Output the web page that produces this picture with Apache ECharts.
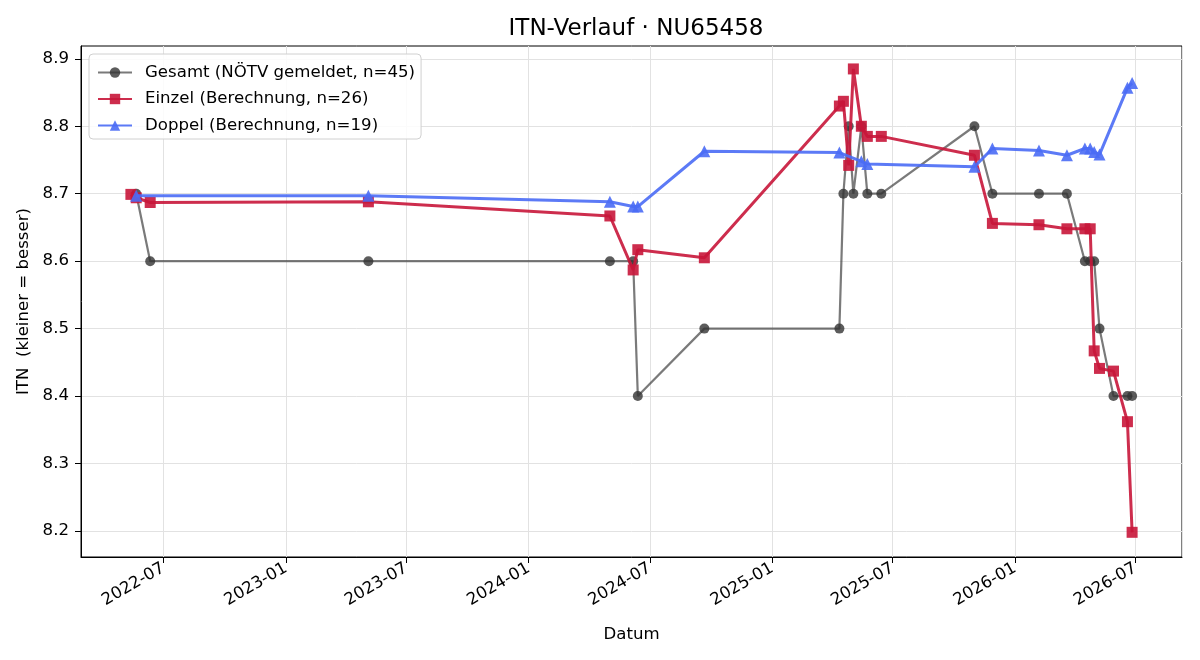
<!DOCTYPE html>
<html>
<head>
<meta charset="utf-8">
<script src="https://cdn.jsdelivr.net/npm/echarts@6/dist/echarts.min.js"></script>
<style>
  html, body { margin: 0; padding: 0; background: #fff; }
  #chart { width: 1200px; height: 660px; }
</style>
</head>
<body>
<div id="chart"></div>
<script>
// Gesamt (NÖTV gemeldet)
var gesamtDates = ['2022-05-21', '2022-06-11', '2023-05-05', '2024-05-02', '2024-06-06', '2024-06-13',
    '2024-09-21', '2025-04-12', '2025-04-18', '2025-04-26', '2025-05-03', '2025-05-15', '2025-05-24',
    '2025-06-14', '2025-11-01', '2025-11-28', '2026-02-06', '2026-03-20', '2026-04-16', '2026-04-24',
    '2026-04-30', '2026-05-08', '2026-05-29', '2026-06-19', '2026-06-26'];
var gesamtValues = [8.7, 8.6, 8.6, 8.6, 8.6, 8.4,
    8.5, 8.5, 8.7, 8.8, 8.7, 8.8, 8.7,
    8.7, 8.8, 8.7, 8.7, 8.7, 8.6, 8.6,
    8.6, 8.5, 8.4, 8.4, 8.4];

// Einzel (Berechnung)
var einzelDates = ['2022-05-13', '2022-05-21', '2022-06-11', '2023-05-05', '2024-05-02', '2024-06-06',
    '2024-06-13', '2024-09-21', '2025-04-12', '2025-04-18', '2025-04-26', '2025-05-03', '2025-05-15',
    '2025-05-24', '2025-06-14', '2025-11-01', '2025-11-28', '2026-02-06', '2026-03-20', '2026-04-16',
    '2026-04-24', '2026-04-30', '2026-05-08', '2026-05-29', '2026-06-19', '2026-06-26'];
var einzelValues = [8.699, 8.694, 8.687, 8.688, 8.667, 8.587,
    8.617, 8.605, 8.830, 8.837, 8.742, 8.885, 8.800,
    8.785, 8.785, 8.757, 8.656, 8.654, 8.648, 8.648,
    8.648, 8.467, 8.441, 8.437, 8.362, 8.198];

// Doppel (Berechnung)
var doppelDates = ['2022-05-21', '2023-05-05', '2024-05-02', '2024-06-06', '2024-06-13', '2024-09-21',
    '2025-04-12', '2025-05-15', '2025-05-24', '2025-11-01', '2025-11-28', '2026-02-06', '2026-03-20',
    '2026-04-16', '2026-04-24', '2026-04-30', '2026-05-08', '2026-06-19', '2026-06-26'];
var doppelValues = [8.697, 8.697, 8.688, 8.681, 8.681, 8.763,
    8.761, 8.748, 8.744, 8.740, 8.767, 8.764, 8.757,
    8.767, 8.767, 8.762, 8.758, 8.857, 8.864];

var yTicks = [8.2, 8.3, 8.4, 8.5, 8.6, 8.7, 8.8, 8.9];
var DAY = 24 * 3600 * 1000;

function zip(dates, values) {
    return dates.map(function (d, i) { return [d, values[i]]; });
}

var font = 'DejaVu Sans';
var fs = 16.6;
var chart = echarts.init(document.getElementById('chart'), null, { renderer: 'canvas' });

var option = {
    animation: false,
    backgroundColor: '#fff',
    textStyle: { fontFamily: font },
    title: {
        text: 'ITN-Verlauf · NU65458',
        left: 631,
        top: 13,
        textAlign: 'center',
        textStyle: { fontFamily: font, fontSize: 23, fontWeight: 'normal', color: '#000' }
    },
    grid: {
        left: 81, right: 18, top: 46, bottom: 103,
        show: true, borderColor: '#000', borderWidth: 1, backgroundColor: 'transparent'
    },
    legend: {
        orient: 'vertical',
        left: 89,
        top: 54,
        padding: [10, 6, 5, 8],
        itemGap: 9.5,
        itemWidth: 34,
        itemHeight: 13,
        backgroundColor: 'rgba(255,255,255,0.85)',
        borderColor: '#d0d0d0',
        borderWidth: 1,
        borderRadius: 4,
        textStyle: { fontFamily: font, fontSize: fs, color: '#000', padding: [0, 0, 0, 8] },
        data: ['Gesamt (NÖTV gemeldet, n=45)', 'Einzel (Berechnung, n=26)', 'Doppel (Berechnung, n=19)']
    },
    xAxis: {
        type: 'time',
        min: '2022-02-27',
        max: '2026-09-09',
        minInterval: 180 * DAY,
        maxInterval: 184 * DAY,
        name: 'Datum',
        nameLocation: 'middle',
        nameGap: 69,
        nameTextStyle: { fontFamily: font, fontSize: fs, color: '#000' },
        axisLine: { show: true, lineStyle: { color: '#000', width: 1 } },
        axisTick: { show: true, length: 6, lineStyle: { color: '#000' } },
        axisLabel: {
            rotate: 30,
            margin: 10,
            showMinLabel: false,
            showMaxLabel: false,
            hideOverlap: false,
            fontFamily: font,
            fontSize: fs,
            color: '#000',
            formatter: function (v) { return echarts.time.format(v, '{yyyy}-{MM}', false); }
        },
        splitLine: { show: true, lineStyle: { color: '#e2e2e2', width: 1 } }
    },
    yAxis: {
        type: 'value',
        min: 8.1614,
        max: 8.919,
        name: 'ITN  (kleiner = besser)',
        nameLocation: 'middle',
        nameGap: 39,
        nameTextStyle: { fontFamily: font, fontSize: fs, color: '#000' },
        axisLine: { show: true, lineStyle: { color: '#000', width: 1 } },
        axisTick: { show: true, length: 6, lineStyle: { color: '#000' }, customValues: yTicks },
        axisLabel: {
            customValues: yTicks,
            margin: 12,
            fontFamily: font,
            fontSize: fs,
            color: '#000',
            formatter: function (v) { return v.toFixed(1); }
        },
        splitLine: { show: true, lineStyle: { color: '#e2e2e2', width: 1 } }
    },
    series: [
        {
            name: 'Gesamt (NÖTV gemeldet, n=45)',
            type: 'line',
            data: zip(gesamtDates, gesamtValues),
            symbol: 'circle',
            symbolSize: 10,
            showAllSymbol: true,
            color: '#333',
            lineStyle: { color: '#333', width: 2.2, opacity: 0.65 },
            itemStyle: { color: '#333', opacity: 0.8 },
            z: 2
        },
        {
            name: 'Einzel (Berechnung, n=26)',
            type: 'line',
            data: zip(einzelDates, einzelValues),
            symbol: 'rect',
            symbolSize: 11,
            showAllSymbol: true,
            color: '#c8163a',
            lineStyle: { color: '#c8163a', width: 3, opacity: 0.9 },
            itemStyle: { color: '#c8163a', opacity: 0.9 },
            z: 3
        },
        {
            name: 'Doppel (Berechnung, n=19)',
            type: 'line',
            data: zip(doppelDates, doppelValues),
            symbol: 'triangle',
            symbolSize: 12,
            showAllSymbol: true,
            color: '#4a6cf5',
            lineStyle: { color: '#4a6cf5', width: 3, opacity: 0.9 },
            itemStyle: { color: '#4a6cf5', opacity: 0.9 },
            z: 4
        }
    ]
};

chart.setOption(option);
</script>
</body>
</html>
